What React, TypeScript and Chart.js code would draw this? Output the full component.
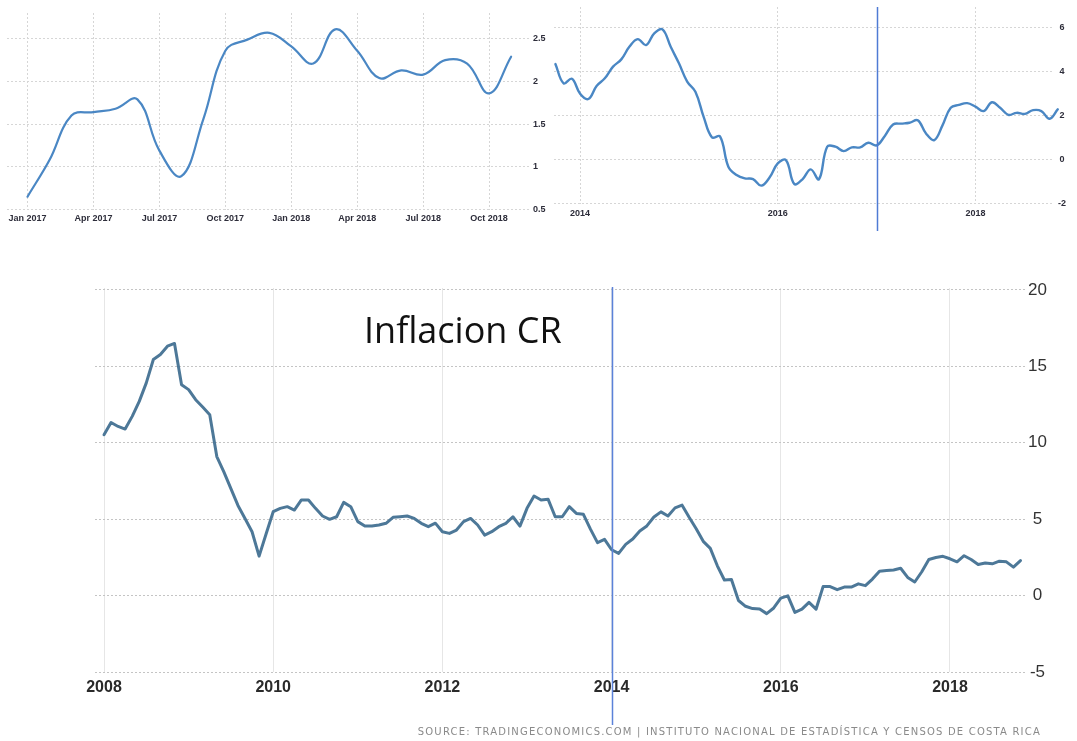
import React, { useEffect, useRef } from 'react';
import { Chart, registerables } from 'chart.js';

Chart.register(...registerables);

// Costa Rica year-on-year inflation (%), monthly, Jan 2008 .. Nov 2018
const infl2008 = [10.53, 11.33, 11.07, 10.9, 11.73, 12.71, 13.92, 15.45, 15.78, 16.32, 16.5, 13.8];
const infl2009 = [13.48, 12.82, 12.34, 11.84, 9.1, 8.1, 7.0, 5.9, 5.05, 4.18, 2.58, 4.05];
const infl2010 = [5.49, 5.71, 5.82, 5.6, 6.26, 6.26, 5.71, 5.21, 4.99, 5.16, 6.1, 5.82];
const infl2011 = [4.84, 4.55, 4.55, 4.62, 4.73, 5.12, 5.16, 5.21, 5.05, 4.73, 4.51, 4.74];
const infl2012 = [4.18, 4.07, 4.29, 4.84, 5.05, 4.62, 3.96, 4.18, 4.51, 4.73, 5.16, 4.55];
const infl2013 = [5.71, 6.52, 6.26, 6.3, 5.16, 5.16, 5.82, 5.38, 5.32, 4.35, 3.47, 3.68];
const infl2014 = [3.0, 2.76, 3.35, 3.7, 4.23, 4.56, 5.14, 5.48, 5.21, 5.74, 5.92, 5.13];
const infl2015 = [4.38, 3.55, 3.09, 1.95, 1.02, 1.05, -0.32, -0.7, -0.85, -0.88, -1.18, -0.81];
const infl2016 = [-0.17, -0.02, -1.1, -0.89, -0.44, -0.89, 0.59, 0.59, 0.39, 0.56, 0.56, 0.77];
const infl2017 = [0.65, 1.08, 1.6, 1.64, 1.68, 1.79, 1.19, 0.89, 1.56, 2.36, 2.49, 2.57];
const infl2018 = [2.41, 2.21, 2.61, 2.36, 2.04, 2.13, 2.08, 2.25, 2.21, 1.86, 2.29];

const inflation = [
  ...infl2008, ...infl2009, ...infl2010, ...infl2011, ...infl2012, ...infl2013,
  ...infl2014, ...infl2015, ...infl2016, ...infl2017, ...infl2018,
];

// tick labels (month index 0 = Jan 2008)
const topLeftTickMonths = [108, 111, 114, 117, 120, 123, 126, 129];
const topLeftTickLabels = ['Jan 2017', 'Apr 2017', 'Jul 2017', 'Oct 2017', 'Jan 2018', 'Apr 2018', 'Jul 2018', 'Oct 2018'];
const topLeftYTicks = [0.5, 1, 1.5, 2, 2.5];

const topRightTickMonths = [72, 96, 120];
const topRightTickLabels = ['2014', '2016', '2018'];
const topRightYTicks = [-2, 0, 2, 4, 6];

const mainTickMonths = [0, 24, 48, 72, 96, 120];
const mainTickLabels = ['2008', '2010', '2012', '2014', '2016', '2018'];
const mainYTicks = [-5, 0, 5, 10, 15, 20];

const TITLE = 'Inflacion CR';
const SOURCE = 'SOURCE: TRADINGECONOMICS.COM | INSTITUTO NACIONAL DE ESTADÍSTICA Y CENSOS DE COSTA RICA';

const markerPlugin = {
  id: 'marker',
  afterDatasetsDraw(chart: any, _args: any, opts: any) {
    if (!opts || opts.month == null) return;
    const x = Math.round(chart.scales.x.getPixelForValue(opts.month)) + 0.5;
    const ctx = chart.ctx;
    ctx.save();
    ctx.strokeStyle = opts.color;
    ctx.lineWidth = opts.width;
    ctx.beginPath();
    ctx.moveTo(x, opts.top);
    ctx.lineTo(x, opts.bottom);
    ctx.stroke();
    ctx.restore();
  },
};

type Spec = {
  startMonth: number;
  padLeft: number;
  padTop: number;
  yAxisWidth: number;
  xAxisHeight: number;
  xMin: number;
  xMax: number;
  yMin: number;
  yMax: number;
  xTicks: number[];
  xLabels: string[];
  yTicks: number[];
  lineColor: string;
  lineWidth: number;
  tension: number;
  xFont: any;
  yFont: any;
  xPad: number;
  yPad: number;
  yCross: 'near' | 'center' | 'far';
  xGridColor: string;
  xGridDash: number[];
  yGridColor: string;
  yGridDash: number[];
  xTickColor: string;
  yTickColor: string;
  marker?: any;
};

function buildConfig(s: Spec): any {
  const points = inflation.slice(s.startMonth).map((v, i) => ({ x: s.startMonth + i, y: v }));
  return {
    type: 'line',
    data: {
      datasets: [
        {
          data: points,
          borderColor: s.lineColor,
          borderWidth: s.lineWidth,
          pointRadius: 0,
          tension: s.tension,
          fill: false,
          clip: false,
          borderJoinStyle: 'round',
          borderCapStyle: 'round',
        },
      ],
    },
    options: {
      animation: false,
      responsive: false,
      devicePixelRatio: 1,
      layout: { padding: { left: s.padLeft, top: s.padTop, right: 0, bottom: 0 } },
      plugins: {
        legend: { display: false },
        tooltip: { enabled: false },
        marker: s.marker || {},
      },
      scales: {
        x: {
          type: 'linear',
          min: s.xMin,
          max: s.xMax,
          afterBuildTicks: (sc: any) => {
            sc.ticks = s.xTicks.map((v) => ({ value: v }));
          },
          afterFit: (sc: any) => {
            sc.height = s.xAxisHeight;
            sc.paddingLeft = 0;
            sc.paddingRight = 0;
          },
          ticks: {
            autoSkip: false,
            maxRotation: 0,
            minRotation: 0,
            padding: s.xPad,
            color: s.xTickColor,
            font: s.xFont,
            callback: (v: number) => {
              const i = s.xTicks.indexOf(v);
              return i >= 0 ? s.xLabels[i] : '';
            },
          },
          grid: { color: s.xGridColor, lineWidth: 1, drawTicks: false },
          border: { display: false, dash: s.xGridDash },
        },
        y: {
          type: 'linear',
          position: 'right',
          min: s.yMin,
          max: s.yMax,
          afterBuildTicks: (sc: any) => {
            sc.ticks = s.yTicks.map((v) => ({ value: v }));
          },
          afterFit: (sc: any) => {
            sc.width = s.yAxisWidth;
            sc.paddingTop = 0;
            sc.paddingBottom = 0;
          },
          ticks: {
            padding: s.yPad,
            color: s.yTickColor,
            font: s.yFont,
            crossAlign: s.yCross,
            callback: (v: number) => String(v),
          },
          grid: { color: s.yGridColor, lineWidth: 1, drawTicks: false },
          border: { display: false, dash: s.yGridDash },
        },
      },
    },
    plugins: [markerPlugin],
  };
}

function ChartCanvas({ spec, left, top, width, height }: { spec: Spec; left: number; top: number; width: number; height: number }) {
  const ref = useRef<HTMLCanvasElement | null>(null);
  useEffect(() => {
    if (!ref.current) return;
    const chart = new Chart(ref.current, buildConfig(spec));
    return () => chart.destroy();
  }, []);
  return (
    <canvas
      ref={ref}
      width={width}
      height={height}
      style={{ position: 'absolute', left, top, width, height }}
    />
  );
}

const smallFont = { family: 'Liberation Sans', size: 9, weight: 'bold' };
const mainXFont = { family: 'Liberation Sans', size: 16, weight: 'bold' };
const mainYFont = { family: 'Liberation Sans', size: 17 };

const topLeftSpec: Spec = {
  startMonth: 108,
  padLeft: 7,
  padTop: 13,
  yAxisWidth: 22,
  xAxisHeight: 25.5,
  xMin: 107.067,
  xMax: 130.86,
  yMin: 0.5,
  yMax: 2.802,
  xTicks: topLeftTickMonths,
  xLabels: topLeftTickLabels,
  yTicks: topLeftYTicks,
  lineColor: '#4a87c4',
  lineWidth: 2.2,
  tension: 0.4,
  xFont: smallFont,
  yFont: smallFont,
  xPad: 4,
  yPad: 3,
  yCross: 'near',
  xGridColor: '#d6d6d6',
  xGridDash: [2, 2],
  yGridColor: '#d6d6d6',
  yGridDash: [2, 2],
  xTickColor: '#2d2d3a',
  yTickColor: '#2d2d3a',
};

const topRightSpec: Spec = {
  startMonth: 69,
  padLeft: 4,
  padTop: 7,
  yAxisWidth: 23,
  xAxisHeight: 31.3,
  xMin: 68.83,
  xMax: 129.54,
  yMin: -2,
  yMax: 6.94,
  xTicks: topRightTickMonths,
  xLabels: topRightTickLabels,
  yTicks: topRightYTicks,
  lineColor: '#4a87c4',
  lineWidth: 2.4,
  tension: 0.4,
  xFont: smallFont,
  yFont: smallFont,
  xPad: 4,
  yPad: 4,
  yCross: 'center',
  xGridColor: '#d6d6d6',
  xGridDash: [2, 2],
  yGridColor: '#d6d6d6',
  yGridDash: [2, 2],
  xTickColor: '#2d2d3a',
  yTickColor: '#2d2d3a',
  marker: { month: 108, top: 7, bottom: 231, color: '#4f7bd4', width: 1.5 },
};

const mainSpec: Spec = {
  startMonth: 0,
  padLeft: 95,
  padTop: 18,
  yAxisWidth: 52,
  xAxisHeight: 69,
  xMin: -1.277,
  xMax: 130.64,
  yMin: -5,
  yMax: 20.13,
  xTicks: mainTickMonths,
  xLabels: mainTickLabels,
  yTicks: mainYTicks,
  lineColor: '#4d7898',
  lineWidth: 3,
  tension: 0,
  xFont: mainXFont,
  yFont: mainYFont,
  xPad: 6,
  yPad: 3,
  yCross: 'center',
  xGridColor: '#e6e6e6',
  xGridDash: [],
  yGridColor: '#c4c4c4',
  yGridDash: [2, 2],
  xTickColor: '#2a2a2a',
  yTickColor: '#333',
  marker: { month: 72, top: 17, bottom: 455, color: '#5b82d9', width: 1.5 },
};

export default function App() {
  return (
    <div
      style={{
        position: 'absolute',
        left: 0,
        top: 0,
        width: 1077,
        height: 741,
        background: '#fff',
        overflow: 'hidden',
      }}
    >
      <ChartCanvas spec={topLeftSpec} left={0} top={0} width={552} height={235} />
      <ChartCanvas spec={topRightSpec} left={550} top={0} width={527} height={235} />
      <ChartCanvas spec={mainSpec} left={0} top={270} width={1077} height={471} />
      <div
        style={{
          position: 'absolute',
          left: 364,
          top: 312,
          fontFamily: '"Open Sans", "Noto Sans", sans-serif',
          fontSize: 36,
          lineHeight: '36px',
          color: '#111',
          whiteSpace: 'nowrap',
        }}
      >
        {TITLE}
      </div>
      <div
        style={{
          position: 'absolute',
          right: 1077 - 1041,
          top: 726,
          fontFamily: '"DejaVu Sans", sans-serif',
          fontSize: 10,
          lineHeight: '12px',
          letterSpacing: '1.2px',
          color: '#8a8a8a',
          whiteSpace: 'nowrap',
        }}
      >
        {SOURCE}
      </div>
    </div>
  );
}
